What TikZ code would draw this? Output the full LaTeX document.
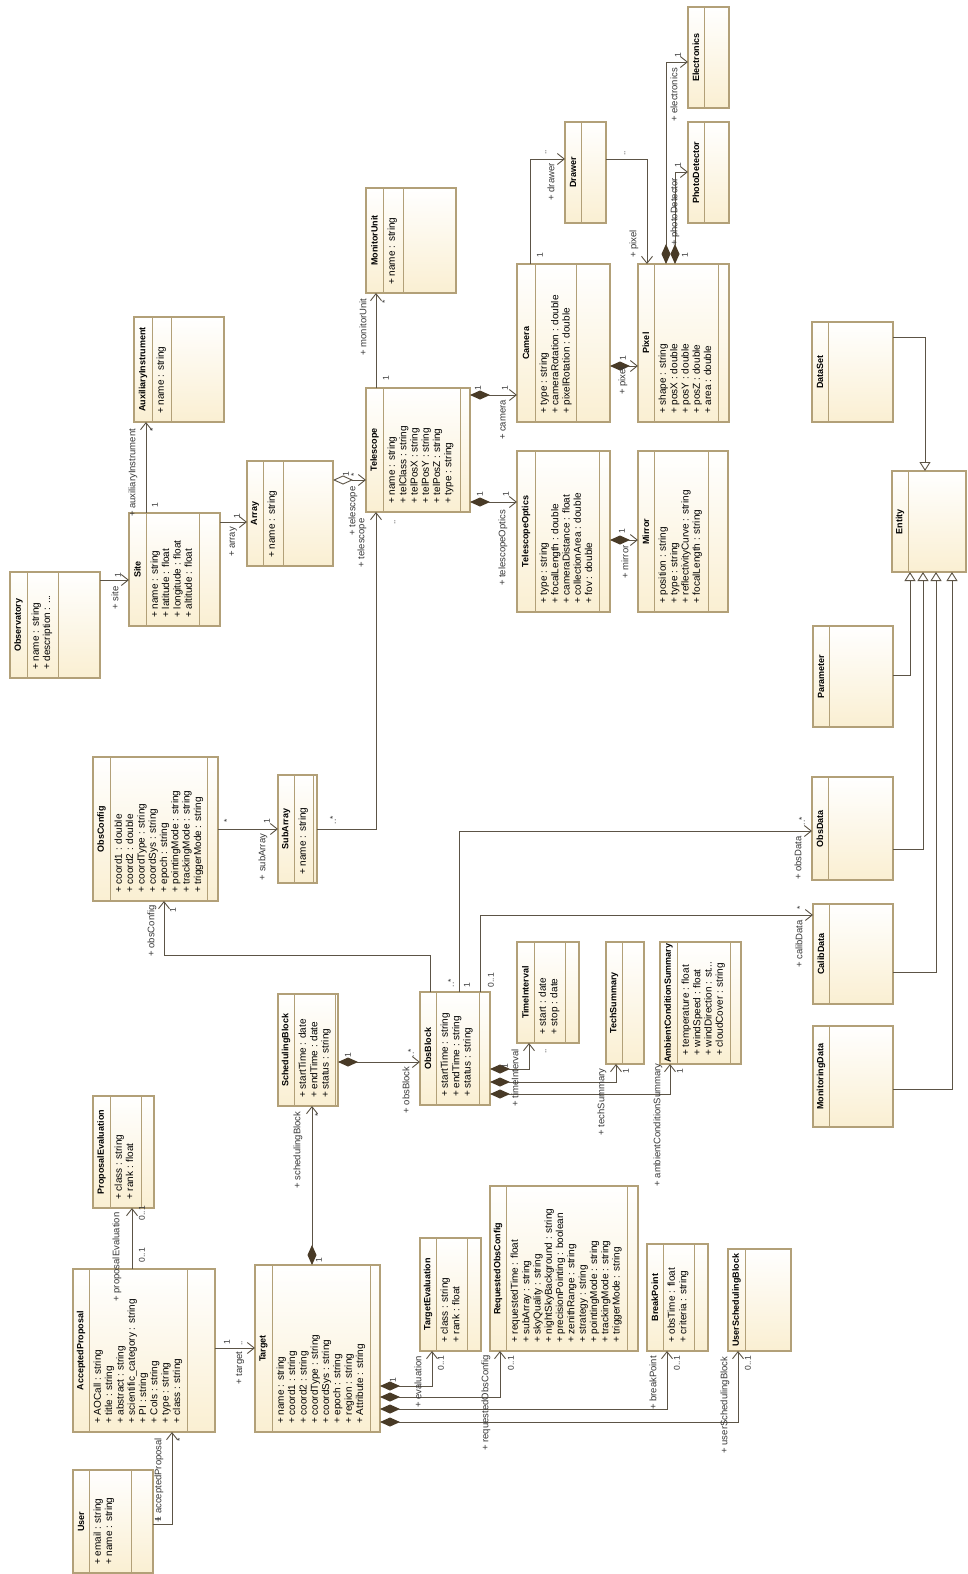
\documentclass[tikz,border=0pt]{standalone}
\usepackage{fontspec}
\setmainfont{Liberation Sans}
\usetikzlibrary{arrows.meta}
\definecolor{clsborder}{RGB}{178,160,120}
\definecolor{clsfill}{RGB}{250,239,210}
\definecolor{linec}{RGB}{92,84,70}
\definecolor{diamc}{RGB}{72,58,38}
\definecolor{rolec}{RGB}{55,55,55}
\begin{document}
\begin{tikzpicture}[x=1pt,y=-1pt,
    cls/.style={draw=clsborder,line width=1.2pt,top color=white,bottom color=clsfill,inner sep=0pt,outer sep=0pt},
    clsline/.style={draw=clsborder,line width=0.9pt},
    ttl/.style={rotate=90,inner sep=0pt,font=\fontsize{9}{11}\selectfont\bfseries},
    attr/.style={rotate=90,anchor=north west,align=left,inner xsep=8pt,inner ysep=4.5pt,font=\fontsize{10}{11.3}\selectfont},
    role/.style={rotate=90,inner sep=0pt,text=rolec,font=\fontsize{9.5}{11}\selectfont},
    mult/.style={rotate=90,inner sep=0pt,text=rolec,font=\fontsize{8.5}{10}\selectfont},
    assoc/.style={draw=linec,line width=0.9pt,-{Straight Barb[length=7pt,width=11pt]}},
    comp/.style={assoc,{Diamond[length=20pt,width=9pt,color=diamc]}-{Straight Barb[length=7pt,width=11pt]}},
    aggr/.style={assoc,{Diamond[length=20pt,width=9pt,fill=white]}-{Straight Barb[length=7pt,width=11pt]}},
    gen/.style={draw=linec,line width=0.9pt,-{Triangle[open,fill=white,length=9pt,width=11pt]}}]
  \path[fill=white,use as bounding box] (0,0) rectangle (968,1574);
  \foreach \nm/\xa/\ya/\xb/\yb/\hw/\aw/\cname/\attrs in {
      obsv/10/572/100/678/17/31/Observatory/{+ name : string\\+ description : ...},
      site/129/513/220/626/17/53/Site/{+ name : string\\+ latitude : float\\+ longitude : float\\+ altitude : float},
      aux/134/317/224/422/18/19/AuxiliaryInstrument/{+ name : string},
      arr/247/461/333/566/16/20/Array/{+ name : string},
      tel/366/388/470/512/17/77/Telescope/{+ name : string\\+ telClass : string\\+ telPosX : string\\+ telPosY : string\\+ telPosZ : string\\+ type : string},
      mon/366/188/456/293/17/20/MonitorUnit/{+ name : string},
      cam/517/264/610/422/18/41/Camera/{+ type : string\\+ cameraRotation : double\\+ pixelRotation : double},
      drw/565/122/606/223/16/25/Drawer/{},
      pix/638/264/729/422/16/64/Pixel/{+ shape : string\\+ posX : double\\+ posY : double\\+ posZ : double\\+ area : double},
      elec/688/7/729/108/16/25/Electronics/{},
      phd/688/122/729/223/16/25/PhotoDetector/{},
      topt/517/451/610/612/18/64/TelescopeOptics/{+ type : string\\+ focalLength : double\\+ cameraDistance : float\\+ collectionArea : double\\+ fov : double},
      mir/638/451/728/612/16/54/Mirror/{+ position : string\\+ type : string\\+ reflectivityCurve : string\\+ focalLength : string},
      dset/812/322/893/422/16/65/DataSet/{},
      ent/892/471/966/572/16/58/Entity/{},
      par/813/626/893/727/16/64/Parameter/{},
      odat/812/777/893/880/16/65/ObsData/{},
      cdat/813/904/893/1004/16/64/CalibData/{},
      mdat/813/1026/893/1127/16/64/MonitoringData/{},
      ocfg/93/757/218/901/17/97/ObsConfig/{+ coord1 : double\\+ coord2 : double\\+ coordType : string\\+ coordSys : string\\+ epoch : string\\+ pointingMode : string\\+ trackingMode : string\\+ triggerMode : string},
      sarr/278/775/317/883/16/19/SubArray/{+ name : string},
      sblk/278/994/338/1106/16/41/SchedulingBlock/{+ startTime : date\\+ endTime : date\\+ status : string},
      oblk/420/992/490/1105/16/43/ObsBlock/{+ startTime : string\\+ endTime : string\\+ status : string},
      tint/517/942/579/1043/17/31/TimeInterval/{+ start : date\\+ stop : date},
      tsum/606/942/644/1064/16/22/TechSummary/{},
      acs/660/942/741/1064/17/53/AmbientConditionSummary/{+ temperature : float\\+ windSpeed : float\\+ windDirection : st...\\+ cloudCover : string},
      peval/93/1096/154/1208/17/31/ProposalEvaluation/{+ class : string\\+ rank : float},
      aprop/73/1269/215/1432/16/98/AcceptedProposal/{+ AOCall : string\\+ title : string\\+ abstract : string\\+ scientific\_category : string\\+ PI : string\\+ CoIs : string\\+ type : string\\+ class : string},
      user/73/1470/153/1573/16/42/User/{+ email : string\\+ name : string},
      tgt/255/1265/380/1432/17/98/Target/{+ name : string\\+ coord1 : string\\+ coord2 : string\\+ coordType : string\\+ coordSys : string\\+ epoch : string\\+ region : string\\+ Attribute : string},
      teval/420/1238/481/1351/16/31/TargetEvaluation/{+ class : string\\+ rank : float},
      roc/490/1186/638/1351/16/121/RequestedObsConfig/{+ requestedTime : float\\+ subArray : string\\+ skyQuality : string\\+ nightSkyBackground : string\\+ precisionPointing : boolean\\+ zenithRange : string\\+ strategy : string\\+ pointingMode : string\\+ trackingMode : string\\+ triggerMode : string},
      bpt/647/1244/708/1351/16/31/BreakPoint/{+ obsTime : float\\+ criteria : string},
      usb/728/1249/791/1351/17/46/UserSchedulingBlock/{}} {
    \node[cls,minimum width={\xb-\xa},minimum height={\yb-\ya}] (\nm) at ({(\xa+\xb)/2},{(\ya+\yb)/2}) {};
    \draw[clsline] (\xa+\hw,\ya) -- (\xa+\hw,\yb);
    \draw[clsline] (\xa+\hw+\aw,\ya) -- (\xa+\hw+\aw,\yb);
    \node[ttl] (\nm-t) at ({\xa+\hw/2},{(\ya+\yb)/2}) {\cname};
    \node[attr] (\nm-a) at (\xa+\hw,\yb) {\attrs};
  }
  \draw[assoc] (obsv.east |- 0,580) -- (site.west |- 0,580);
  \draw[assoc] (site.north -| 146,0) -- (aux.south -| 146,0);
  \draw[assoc] (site.east |- 0,522) -- (arr.west |- 0,522);
  \draw[aggr] (arr.east |- 0,480) -- (tel.west |- 0,480);
  \draw[assoc] (tel.north -| 376,0) -- (mon.south -| 376,0);
  \draw[assoc] (ocfg.east |- 0,829) -- (sarr.west |- 0,829);
  \draw[assoc] (sarr.east |- 0,829) -| (tel.south -| 376,0);
  \draw[comp] (tel.east |- 0,395) -- (cam.west |- 0,395);
  \draw[comp] (tel.east |- 0,502) -- (topt.west |- 0,502);
  \draw[comp] (topt.east |- 0,540) -- (mir.west |- 0,540);
  \draw[comp] (cam.east |- 0,366) -- (pix.west |- 0,366);
  \draw[assoc] (cam.north -| 530,0) |- (drw.west |- 0,159);
  \draw[assoc] (drw.east |- 0,159) -| (pix.north -| 647,0);
  \draw[comp] (pix.north -| 666,0) |- (elec.west |- 0,62);
  \draw[comp] (pix.north -| 675,0) |- (phd.west |- 0,172);
  \draw[gen] (dset.east |- 0,337) -| (ent.north -| 925,0);
  \draw[gen] (par.east |- 0,675) -| (ent.south -| 910,0);
  \draw[gen] (odat.east |- 0,849) -| (ent.south -| 923,0);
  \draw[gen] (cdat.east |- 0,972) -| (ent.south -| 936,0);
  \draw[gen] (mdat.east |- 0,1089) -| (ent.south -| 952,0);
  \draw[assoc] (oblk.north -| 430,0) -- (430,955) -| (ocfg.south -| 164,0);
  \draw[assoc] (oblk.north -| 459,0) |- (odat.west |- 0,831);
  \draw[assoc] (oblk.north -| 480,0) |- (cdat.west |- 0,915);
  \draw[comp] (oblk.east |- 0,1069) -| (tint.south -| 529,0);
  \draw[comp] (oblk.east |- 0,1082) -| (tsum.south -| 616,0);
  \draw[comp] (oblk.east |- 0,1094) -| (acs.south -| 670,0);
  \draw[comp] (sblk.east |- 0,1062) -- (oblk.west |- 0,1062);
  \draw[comp] (tgt.north -| 312,0) -- (sblk.south -| 312,0);
  \draw[assoc] (aprop.north -| 132,0) -- (peval.south -| 132,0);
  \draw[assoc] (user.east |- 0,1524) -| (aprop.south -| 172,0);
  \draw[assoc] (aprop.east |- 0,1348) -- (tgt.west |- 0,1348);
  \draw[comp] (tgt.east |- 0,1386) -| (teval.south -| 432,0);
  \draw[comp] (tgt.east |- 0,1397) -| (roc.south -| 500,0);
  \draw[comp] (tgt.east |- 0,1409) -| (bpt.south -| 667,0);
  \draw[comp] (tgt.east |- 0,1422) -| (usb.south -| 738,0);
  \foreach \x/\y/\txt [count=\i] in {115/598/{+ site},133/473/{+ auxiliaryInstrument},
      233/542/{+ array},353/511/{+ telescope},363/327/{+ monitorUnit},362/543/{+ telescope},
      263/857/{+ subArray},503/420/{+ camera},503/548/{+ telescopeOptics},625/562/{+ mirror},
      623/381/{+ pixel},551/182/{+ drawer},634/244/{+ pixel},674/95/{+ electronics},
      675/212/{+ photoDetector},152/931/{+ obsConfig},798/858/{+ obsData},799/944/{+ calibData},
      515/1078/{+ timeInterval},602/1102/{+ techSummary},658/1125/{+ ambientConditionSummary},
      406/1090/{+ obsBlock},298/1150/{+ schedulingBlock},117/1257/{+ proposalEvaluation},
      159/1480/{+ acceptedProposal},240/1368/{+ target},418/1382/{+ evaluation},
      486/1403/{+ requestedObsConfig},653/1383/{+ breakPoint},725/1405/{+ userSchedulingBlock}}
    \node[role] (role\i) at (\x,\y) {\txt};
  \foreach \x/\y/\txt [count=\i] in {118/575/1,155/505/1,153/430/*,237/516/1,346/474/1,354/475/*,
      386/378/1,385/302/*,227/821/*,267/821/1,478/388/1,505/388/1,480/494/1,506/494/1,
      622/531/1,623/358/1,540/255/1,678/55/1,678/165/1,685/255/1,173/910/1,467/985/1,
      491/980/{0..1},800/908/*,505/1066/1,626/1071/1,680/1071/1,348/1055/1,318/1115/*,
      319/1260/1,142/1255/{0..1},142/1213/{0..1},180/1440/*,227/1342/1,393/1380/1,
      441/1363/{0..1},511/1363/{0..1},677/1363/{0..1},748/1363/{0..1},158/1519/1,
      451/983/{..*},411/1053/{..*},802/821/{..*},333/820/{..*},395/522/{..},546/152/{..},
      625/153/{..},546/1051/{..},242/1343/{..}}
    \node[mult] (mult\i) at (\x,\y) {\txt};
\end{tikzpicture}
\end{document}
